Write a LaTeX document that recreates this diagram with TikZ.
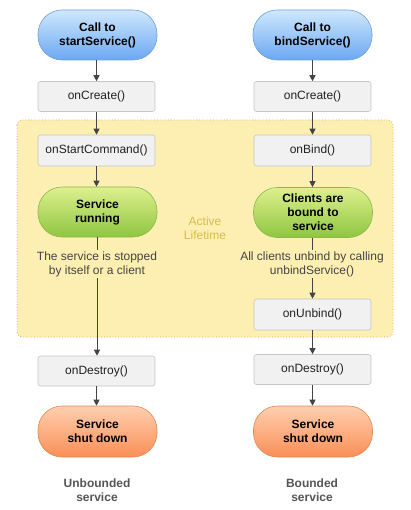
\documentclass[tikz,border=0pt]{standalone}
\usepackage{fontspec}
\setmainfont{Liberation Sans}
\usetikzlibrary{arrows.meta}
\definecolor{boxfill}{HTML}{F1F1F1}
\definecolor{boxdraw}{HTML}{C6C6C6}
\definecolor{regfill}{HTML}{FDEFB2}
\definecolor{regdraw}{HTML}{D9A85E}
\definecolor{arr}{HTML}{444444}
\definecolor{bluetop}{HTML}{CFE8FD}
\definecolor{bluebot}{HTML}{6BA8F2}
\definecolor{bluedraw}{HTML}{6E9FDF}
\definecolor{greentop}{HTML}{DDF08E}
\definecolor{greenbot}{HTML}{8FC640}
\definecolor{greendraw}{HTML}{8CB64E}
\definecolor{orangetop}{HTML}{FFCFAE}
\definecolor{orangebot}{HTML}{F98F58}
\definecolor{orangedraw}{HTML}{E08A54}
\definecolor{activecol}{HTML}{D2BE4E}
\definecolor{txt}{HTML}{222222}
\definecolor{desc}{HTML}{444444}
\definecolor{lab}{HTML}{555555}
\begin{document}
\begin{tikzpicture}[x=1pt,y=-1pt,
  font=\fontsize{12}{14}\selectfont,
  methodbox/.style={draw=boxdraw,fill=boxfill,rounded corners=2.5pt,minimum width=117pt,minimum height=30pt,inner sep=0pt,text=txt,line width=0.6pt},
  pill/.style={rounded corners=24pt,minimum width=119pt,minimum height=50pt,inner sep=0pt,align=center,font=\fontsize{12}{14}\selectfont\bfseries,text=black,line width=0.6pt},
  bluepill/.style={pill,draw=bluedraw,top color=bluetop,bottom color=bluebot},
  greenpill/.style={pill,draw=greendraw,top color=greentop,bottom color=greenbot},
  orangepill/.style={pill,draw=orangedraw,top color=orangetop,bottom color=orangebot,minimum height=51pt},
  desctext/.style={align=center,text=desc,inner sep=1pt},
  labtext/.style={align=center,text=lab,font=\fontsize{12}{14}\selectfont\bfseries},
  flow/.style={draw=arr,line width=0.8pt,-{Triangle[length=6pt,width=6pt]}},
  plainline/.style={draw=arr,line width=0.8pt}
]
\useasboundingbox (0,0) rectangle (411,510);
\fill[white] (0,0) rectangle (411,510);
% active lifetime region
\draw[regdraw,fill=regfill,dotted,line width=0.8pt,rounded corners=5pt] (17,120) rectangle (393,337);
\node[text=activecol,align=center] (active) at (205,228) {Active\\Lifetime};

% left column
\node[bluepill] (call1) at (97.5,35) {Call to\\startService()};
\node[methodbox] (create1) at (96.5,96.5) {onCreate()};
\node[methodbox,minimum height=31pt] (startcmd) at (96.5,150.5) {onStartCommand()};
\node[greenpill] (running) at (97.5,212) {Service\\running};
\node[desctext] (stoptext) at (97,264) {The service is stopped\\by itself or a client};
\node[methodbox] (destroy1) at (96.5,371) {onDestroy()};
\node[orangepill] (shut1) at (97.5,431.5) {Service\\shut down};
\node[labtext] (lab1) at (97,490) {Unbounded\\service};

% right column
\node[bluepill] (call2) at (312.5,35) {Call to\\bindService()};
\node[methodbox] (create2) at (312.5,96.5) {onCreate()};
\node[methodbox,minimum height=31pt] (bind) at (312.5,150.5) {onBind()};
\node[greenpill] (bound) at (313,212.5) {Clients are\\bound to\\service};
\node[desctext] (unbindtext) at (312,264) {All clients unbind by calling\\unbindService()};
\node[methodbox,minimum height=31pt] (unbind) at (312.5,314.5) {onUnbind()};
\node[methodbox] (destroy2) at (312.5,369.5) {onDestroy()};
\node[orangepill] (shut2) at (313,431.5) {Service\\shut down};
\node[labtext] (lab2) at (312,490) {Bounded\\service};

% connectors left
\draw[flow] (call1.south -| create1) -- (create1.north);
\draw[flow] (create1) -- (startcmd);
\draw[flow] (startcmd) -- (running.north -| startcmd);
\draw[plainline] (running.south -| stoptext) -- (stoptext.north);
\draw[flow] (stoptext.south) -- (destroy1.north -| stoptext);
\draw[flow] (destroy1.south) -- (shut1.north -| destroy1);

% connectors right
\draw[flow] (call2.south -| create2) -- (create2.north);
\draw[flow] (create2) -- (bind);
\draw[flow] (bind) -- (bound.north -| bind);
\draw[plainline] (bound.south -| unbindtext) -- (unbindtext.north);
\draw[flow] (unbindtext.south -| unbind) -- (unbind.north);
\draw[flow] (unbind) -- (destroy2);
\draw[flow] (destroy2.south) -- (shut2.north -| destroy2);
\end{tikzpicture}
\end{document}
